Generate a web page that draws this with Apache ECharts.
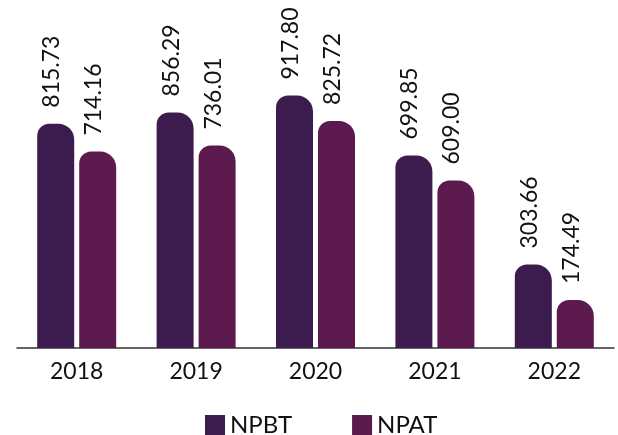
<!DOCTYPE html>
<html>
<head>
<meta charset="utf-8">
<script src="https://cdn.jsdelivr.net/npm/echarts@6/dist/echarts.min.js"></script>
<style>
  html, body { margin: 0; padding: 0; background: #fff; }
  #chart { width: 618px; height: 435px; }
</style>
</head>
<body>
<div id="chart"></div>
<script>
// Yearly profit figures
const years = ['2018', '2019', '2020', '2021', '2022'];
const npbt = [815.73, 856.29, 917.80, 699.85, 303.66];
const npat = [714.16, 736.01, 825.72, 609.00, 174.49];

const colorNPBT = '#3c1c4e';
const colorNPAT = '#5c1a4f';
const font = 'Lato, "Liberation Sans", sans-serif';

const chart = echarts.init(document.getElementById('chart'), null, { renderer: 'canvas' });

const valueLabel = {
  show: true,
  position: 'top',
  rotate: 90,
  align: 'left',
  verticalAlign: 'middle',
  distance: 16,
  offset: [0, -4],
  color: '#111',
  fontFamily: font,
  fontSize: 23,
  formatter: p => p.value.toFixed(2)
};

chart.setOption({
  animation: false,
  grid: { left: 17, right: 4, top: 18, bottom: 87 },
  legend: {
    top: 413,
    left: 205,
    padding: 0,
    itemWidth: 20,
    itemHeight: 20,
    itemGap: 60,
    icon: 'rect',
    textStyle: {
      color: '#111',
      fontFamily: font,
      fontSize: 24
    },
    data: ['NPBT', 'NPAT']
  },
  xAxis: {
    type: 'category',
    data: years,
    axisTick: { show: false },
    axisLine: { lineStyle: { color: '#333', width: 1.5 } },
    axisLabel: {
      margin: 12,
      color: '#111',
      fontFamily: font,
      fontSize: 23
    }
  },
  yAxis: {
    type: 'value',
    min: 0,
    max: 1200,
    show: false,
    splitLine: { show: false }
  },
  series: [
    {
      name: 'NPBT',
      type: 'bar',
      data: npbt,
      barWidth: 37,
      barGap: '13.5%',
      itemStyle: { color: colorNPBT, borderRadius: [12, 16, 0, 0] },
      label: valueLabel
    },
    {
      name: 'NPAT',
      type: 'bar',
      data: npat,
      barWidth: 37,
      itemStyle: { color: colorNPAT, borderRadius: [12, 16, 0, 0] },
      label: valueLabel
    }
  ]
});
</script>
</body>
</html>
